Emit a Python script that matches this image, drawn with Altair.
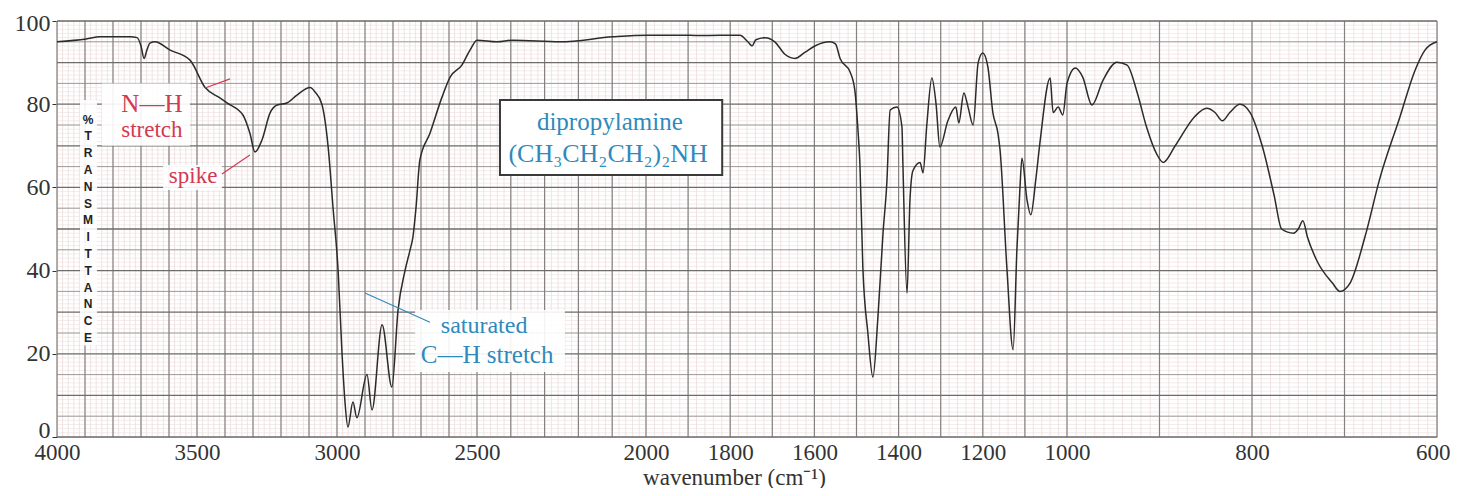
import altair as alt
import pandas as pd

# ---- spectrum (wavenumber cm-1, % transmittance) ----
wavenumber = [4000, 3896, 3846, 3739, 3714, 3700, 3689, 3679, 3668, 3650, 3596, 3525, 3471, 3418,
              3393, 3336, 3311, 3293, 3268, 3239, 3214, 3179, 3143, 3096, 3079, 3054, 3032, 3014,
              2996, 2982, 2971, 2961, 2943, 2929, 2893, 2875, 2839, 2804, 2782, 2757, 2739, 2729,
              2718, 2704, 2668, 2625, 2596, 2554, 2525, 2500, 2441, 2393, 2254, 2098, 1997, 1919,
              1872, 1777, 1758, 1748, 1739, 1717, 1694, 1670, 1646, 1622, 1599, 1563, 1550, 1539,
              1515, 1504, 1496, 1492, 1485, 1473, 1461, 1449, 1437, 1428, 1420, 1404, 1392, 1390,
              1380, 1373, 1366, 1349, 1342, 1333, 1321, 1311, 1302, 1283, 1264, 1257, 1245, 1235,
              1223, 1211, 1200, 1188, 1176, 1164, 1159, 1143, 1128, 1119, 1112, 1107, 1095, 1086,
              1074, 1064, 1040, 1033, 1021, 1010, 1000, 991, 983, 973, 961, 946, 935, 924, 914,
              903, 896, 883, 862, 849, 840, 832, 824, 813, 802, 789, 776, 768, 755, 750, 745, 740,
              729, 713, 705, 694, 678, 662, 640, 624, 613, 600]
transmittance = [95, 95.7, 96.2, 96.2, 96, 94, 91, 93, 94.7, 95, 93, 90.6, 84, 81.5,
                 80.3, 77.4, 73, 68.5, 71.4, 77.9, 79.8, 80.3, 82.2, 84, 83, 80, 70, 55,
                 40, 20, 8, 2.4, 8.4, 4.6, 15, 6.5, 27, 12, 30.5, 40, 45, 48,
                 55, 66.6, 73, 81.7, 86.5, 89.4, 93, 95.4, 95, 95.4, 95, 96.2, 96.6, 96.6,
                 96.5, 96.6, 95, 94, 95.5, 96, 95, 92, 91, 92.5, 94, 95, 94.5, 91,
                 87.7, 83.4, 73, 66, 41, 25, 14.4, 29, 49, 61, 78.6, 79.3, 74.5, 66.6,
                 34.6, 57, 64, 66, 63.5, 75, 86.3, 80, 69.7, 76, 79.3, 75.5, 82.7, 79.3,
                 75, 90, 92.3, 89, 77.9, 73, 69, 41, 21, 45, 59.4, 67, 57, 53.4,
                 62, 71, 86.3, 78, 79.3, 77.4, 85, 88.7, 86.5, 79.8, 85.8, 90.1, 89.4, 82.7, 74.5,
                 68, 66, 70, 77, 79, 78, 76, 78, 80, 78, 70, 58, 50, 49, 50, 52, 48,
                 42, 37, 35, 37, 48, 62, 77, 88, 93, 95]

x_tick_labels = [4000, 3500, 3000, 2500, 2000, 1800, 1600, 1400, 1200, 1000, 800, 600]
y_tick_labels = [0, 20, 40, 60, 80, 100]

# grid positions (chart paper)
major_x = list(range(600, 4001, 100))
minor_x = list(range(2000, 4001, 20)) + list(range(1000, 2000, 20)) + list(range(600, 1000, 10))
major_y = list(range(0, 101, 10))
mid_y = list(range(5, 100, 10))
minor_y = list(range(0, 101, 1))

RED = "#d5394f"
BLUE = "#2f8abb"
SERIF = "Liberation Serif"

xscale = alt.Scale(domain=[4000, 2500, 2000, 1000, 600], range=[0, 420, 589, 1010, 1380],
                   nice=False, zero=False)
yscale = alt.Scale(domain=[0, 100], nice=False, zero=True)

XAXIS = alt.Axis(values=x_tick_labels, title="wavenumber (cm⁻¹)", grid=False, ticks=False,
                 domain=False, labelFont=SERIF, labelFontSize=23, labelColor="#333",
                 labelPadding=4, labelOverlap=False, labelFlush=False, format="d",
                 labelAlign=alt.ExprRef(expr="datum.value == 600 ? 'right' : 'center'"),
                 labelOffset=alt.ExprRef(expr="datum.value == 600 ? 13 : 0"),
                 titleFont=SERIF, titleFontSize=23, titleFontWeight="normal",
                 titleColor="#333", titleX=677, titleY=47, titleAlign="center",
                 titleBaseline="alphabetic")
YAXIS = alt.Axis(values=y_tick_labels, title=None, grid=False, ticks=True, tickSize=5,
                 tickColor="#333", domain=False, labelFont=SERIF, labelFontSize=24,
                 labelColor="#333", labelPadding=2, labelFlush=False, labelOverlap=False,
                 labelOffset=alt.ExprRef(expr="datum.value == 0 ? -7 : (datum.value == 100 ? 2 : 0)"))


def X(field):
    return alt.X(field, scale=xscale, axis=XAXIS)


def Y(field):
    return alt.Y(field, scale=yscale, axis=YAXIS)


spec = pd.DataFrame({"wn": wavenumber, "t": transmittance})


def vrules(vals, color, width):
    return alt.Chart(pd.DataFrame({"v": vals})).mark_rule(color=color, strokeWidth=width).encode(
        x=X("v:Q"))


def hrules(vals, color, width):
    return alt.Chart(pd.DataFrame({"v": vals})).mark_rule(color=color, strokeWidth=width).encode(
        y=Y("v:Q"))


# white patches behind labels
patch = pd.DataFrame({
    "x1": [3840, 3621, 2721, 3918],
    "x2": [3525, 3411, 2240, 3857],
    "y1": [70, 59.4, 15.6, 22],
    "y2": [85, 65.4, 30.5, 81],
})
patches = alt.Chart(patch).mark_rect(color="white", opacity=0.9).encode(
    x=X("x1:Q"), x2="x2:Q", y=Y("y1:Q"), y2="y2:Q")

box = alt.Chart(pd.DataFrame({"x1": [2432], "x2": [1819], "y1": [63], "y2": [81]})).mark_rect(
    fill="white", stroke="#3a3a3a", strokeWidth=2).encode(
    x=X("x1:Q"), x2="x2:Q", y=Y("y1:Q"), y2="y2:Q")

curve = alt.Chart(spec).mark_line(color="#2b2b2b", strokeWidth=1.5, interpolate="monotone").encode(
    x=X("wn:Q"), y=Y("t:Q"), order="wn:Q")

# pointer lines
ptr = pd.DataFrame({
    "x1": [3471, 3411, 2900], "x2": [3382, 3311, 2668],
    "y1": [83.9, 63.2, 34.6], "y2": [86.1, 67.8, 27.6],
    "c": ["r", "r", "b"],
})
pointers = alt.Chart(ptr).mark_rule(strokeWidth=1.2).encode(
    x=X("x1:Q"), x2="x2:Q", y=Y("y1:Q"), y2="y2:Q",
    color=alt.Color("c:N", scale=alt.Scale(domain=["r", "b"], range=[RED, BLUE]), legend=None))

labels_red = pd.DataFrame({
    "x": [3661, 3661, 3514], "y": [78.1, 72.1, 61.0],
    "s": ["N—H", "stretch", "spike"], "fs": [25, 23, 23]})
red_text = alt.Chart(labels_red).mark_text(font=SERIF, color=RED, align="center",
                                           baseline="alphabetic").encode(
    x=X("x:Q"), y=Y("y:Q"), text="s:N", size=alt.Size("fs:Q", scale=None, legend=None))

labels_blue = pd.DataFrame({
    "x": [2107, 2112, 2479, 2470], "y": [73.8, 66.1, 25.0, 17.8],
    "s": ["dipropylamine", "(CH₃CH₂CH₂)₂NH", "saturated", "C—H stretch"],
    "fs": [25, 26, 24, 25]})
blue_text = alt.Chart(labels_blue).mark_text(font=SERIF, color=BLUE, align="center",
                                             baseline="alphabetic").encode(
    x=X("x:Q"), y=Y("y:Q"), text="s:N", size=alt.Size("fs:Q", scale=None, legend=None))

ytitle = alt.Chart(pd.DataFrame({"x": [3889], "y": [77.5],
                                 "s": ["%\nT\nR\nA\nN\nS\nM\nI\nT\nT\nA\nN\nC\nE"]})).mark_text(
    font="Liberation Sans", fontWeight="bold", fontSize=12, lineHeight=16.8, lineBreak="\n",
    color="#222", align="center", baseline="top").encode(
    x=X("x:Q"), y=Y("y:Q"), text="s:N")

chart = alt.layer(
    vrules(minor_x, "#e9d8d8", 0.7),
    hrules(minor_y, "#eedede", 0.6),
    hrules(mid_y, "#9f9a9a", 1.0),
    vrules(major_x, "#858181", 1.2),
    hrules(major_y, "#6f6c6c", 1.3),
    patches, box, curve, pointers, red_text, blue_text, ytitle,
).properties(
    width=1380, height=416,
    autosize=alt.AutoSizeParams(type="none"),
    padding={"left": 49, "top": 13, "right": 13, "bottom": 51},
).configure_view(stroke="#3c3c3c", strokeWidth=2).configure(background="white")

chart.save("out.html", embed_options={"renderer": "svg", "actions": False})
